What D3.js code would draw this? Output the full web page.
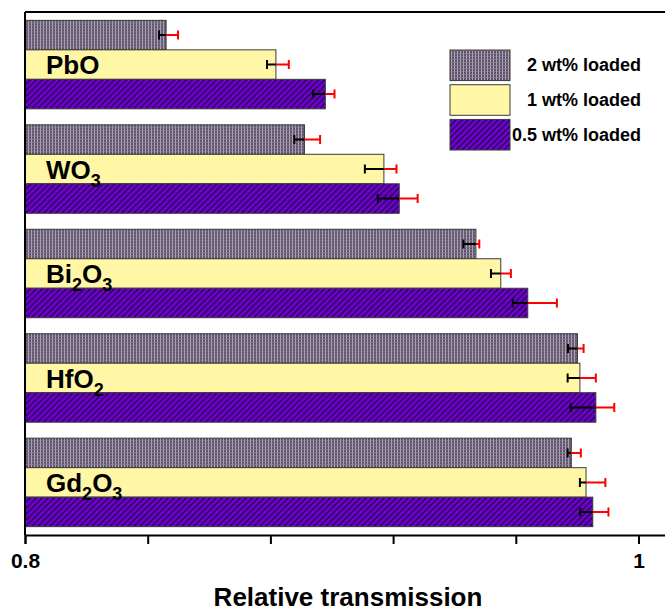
<!DOCTYPE html>
<html>
<head>
<meta charset="utf-8">
<script src="https://cdn.jsdelivr.net/npm/d3@7"></script>
<style>
  html, body { margin: 0; padding: 0; background: #fff; }
  svg { display: block; font-family: Arial, "Liberation Sans", sans-serif; }
</style>
</head>
<body>
<svg id="chart" width="665" height="615"></svg>
<script>
// Oxide fillers, top to bottom
const categories = ["PbO", "WO3", "Bi2O3", "HfO2", "Gd2O3"];
// Label pieces: [text, isSubscript]
const categoryLabels = [
  [["PbO", false]],
  [["WO", false], ["3", true]],
  [["Bi", false], ["2", true], ["O", false], ["3", true]],
  [["HfO", false], ["2", true]],
  [["Gd", false], ["2", true], ["O", false], ["3", true]]
];

const seriesNames = ["2 wt% loaded", "1 wt% loaded", "0.5 wt% loaded"];

// Relative transmission per oxide
const load2 = [0.8460, 0.8911, 0.9470, 0.9801, 0.9781];
const load1 = [0.8818, 0.9170, 0.9551, 0.9809, 0.9829];
const load05 = [0.8979, 0.9220, 0.9639, 0.9861, 0.9851];

// Error bar extents below (black) and above (red) each value
const load2ErrLow = [0.0023, 0.0033, 0.0041, 0.0031, 0.0012];
const load2ErrHigh = [0.0039, 0.0051, 0.0011, 0.0020, 0.0031];
const load1ErrLow = [0.0029, 0.0062, 0.0032, 0.0040, 0.0020];
const load1ErrHigh = [0.0042, 0.0041, 0.0033, 0.0052, 0.0063];
const load05ErrLow = [0.0040, 0.0070, 0.0049, 0.0082, 0.0041];
const load05ErrHigh = [0.0030, 0.0060, 0.0095, 0.0060, 0.0051];

const xTicks = [0.8, 0.84, 0.88, 0.92, 0.96, 1.0, 1.04];
const xTickLabels = ["0.8", "", "", "", "", "1", ""];
const xTitle = "Relative transmission";

const series = [
  { name: seriesNames[0], values: load2, lo: load2ErrLow, hi: load2ErrHigh, fill: "url(#grid)" },
  { name: seriesNames[1], values: load1, lo: load1ErrLow, hi: load1ErrHigh, fill: "#fff7a6" },
  { name: seriesNames[2], values: load05, lo: load05ErrLow, hi: load05ErrHigh, fill: "url(#hatch)" }
];

const svg = d3.select("#chart");
const plot = { left: 25, top: 12, bottom: 535 };

// Patterns
const defs = svg.append("defs");
const grid = defs.append("pattern").attr("id", "grid")
  .attr("patternUnits", "userSpaceOnUse").attr("width", 3).attr("height", 3);
grid.append("rect").attr("width", 3).attr("height", 3).attr("fill", "#5d5268");
grid.append("rect").attr("x", 1).attr("width", 1).attr("height", 3).attr("fill", "#b3a9bd");
grid.append("rect").attr("y", 2).attr("width", 3).attr("height", 1).attr("fill", "#8d8298").attr("opacity", 0.8);

const hatch = defs.append("pattern").attr("id", "hatch")
  .attr("patternUnits", "userSpaceOnUse").attr("width", 6).attr("height", 6);
hatch.append("rect").attr("width", 6).attr("height", 6).attr("fill", "#6a02cc");
hatch.append("path").attr("d", "M-1,1 l2,-2 M0,6 l6,-6 M5,7 l2,-2")
  .attr("stroke", "#1a0030").attr("stroke-width", 1.1);

// Scales: axis continues past 1.0 to the right edge
const x = d3.scaleLinear().domain([0.8, 1.05]).range([plot.left, plot.left + 613.5 * 1.25]);
const y = d3.scaleBand().domain(categories).range([plot.top, plot.bottom])
  .paddingInner(0.153).paddingOuter(0.08);
const yInner = d3.scaleBand().domain(seriesNames).range([0, y.bandwidth()]);

// Bars
const groups = svg.append("g").selectAll("g").data(categories).join("g")
  .attr("transform", d => `translate(0,${y(d)})`);

series.forEach(s => {
  groups.append("rect")
    .attr("x", x(0.8))
    .attr("y", yInner(s.name))
    .attr("width", (d, i) => x(s.values[i]) - x(0.8))
    .attr("height", yInner.bandwidth())
    .attr("fill", s.fill)
    .attr("stroke", "#3a3a3a")
    .attr("stroke-width", 1);
});

// Category labels
groups.append("text")
  .attr("x", 46)
  .attr("y", yInner(seriesNames[1]) + yInner.bandwidth() - 5)
  .attr("font-size", 26).attr("font-weight", "bold").attr("fill", "#000")
  .each(function(d, i) {
    const t = d3.select(this);
    let shift = 0;
    categoryLabels[i].forEach(([txt, sub]) => {
      const dy = sub ? 8 - shift : -shift;
      shift = sub ? 8 : 0;
      t.append("tspan").attr("dy", dy).attr("font-size", sub ? 18 : 26).text(txt);
    });
  });

// Error bars: lower part black, upper part red
const cap = 4.5;
series.forEach(s => {
  const cy = yInner(s.name) + yInner.bandwidth() / 2;
  groups.each(function(d, i) {
    const g = d3.select(this);
    const v = s.values[i];
    const x0 = x(v - s.lo[i]), x1 = x(v), x2 = x(v + s.hi[i]);
    g.append("path").attr("d", `M${x0},${cy}H${x1}M${x0},${cy - cap}V${cy + cap}`)
      .attr("stroke", "#000").attr("stroke-width", 2).attr("fill", "none");
    g.append("path").attr("d", `M${x1},${cy}H${x2}M${x2},${cy - cap}V${cy + cap}`)
      .attr("stroke", "#ff0000").attr("stroke-width", 2).attr("fill", "none");
  });
});

// Frame: left and top lines
svg.append("line").attr("x1", plot.left).attr("x2", plot.left)
  .attr("y1", plot.top).attr("y2", plot.bottom).attr("stroke", "#000").attr("stroke-width", 2);
svg.append("line").attr("x1", plot.left).attr("x2", x(1.05))
  .attr("y1", plot.top).attr("y2", plot.top).attr("stroke", "#000").attr("stroke-width", 2);

// Bottom axis
const xAxis = d3.axisBottom(x).tickValues(xTicks).tickSize(9).tickPadding(9)
  .tickFormat((d, i) => xTickLabels[i]);
const axG = svg.append("g").attr("transform", `translate(0,${plot.bottom})`).call(xAxis);
axG.select(".domain").attr("stroke", "#000").attr("stroke-width", 2);
axG.selectAll(".tick line").attr("stroke", "#000").attr("stroke-width", 2);
axG.selectAll(".tick text").attr("font-size", 21).attr("font-weight", "bold")
  .attr("fill", "#000").attr("font-family", "Arial, 'Liberation Sans', sans-serif");

svg.append("text").attr("x", 348).attr("y", 606)
  .attr("text-anchor", "middle").attr("font-size", 26).attr("font-weight", "bold")
  .attr("fill", "#000").text(xTitle);

// Legend
const legend = svg.append("g");
const legY = d3.scaleBand().domain(seriesNames).range([50, 150]).paddingInner(0.12);
series.forEach(s => {
  legend.append("rect").attr("x", 450).attr("y", legY(s.name))
    .attr("width", 60).attr("height", legY.bandwidth())
    .attr("fill", s.fill).attr("stroke", "#3a3a3a").attr("stroke-width", 1);
  legend.append("text").attr("x", 641).attr("y", legY(s.name) + legY.bandwidth() / 2 + 6)
    .attr("text-anchor", "end").attr("font-size", 18).attr("font-weight", "bold")
    .attr("fill", "#000").text(s.name);
});
</script>
</body>
</html>
